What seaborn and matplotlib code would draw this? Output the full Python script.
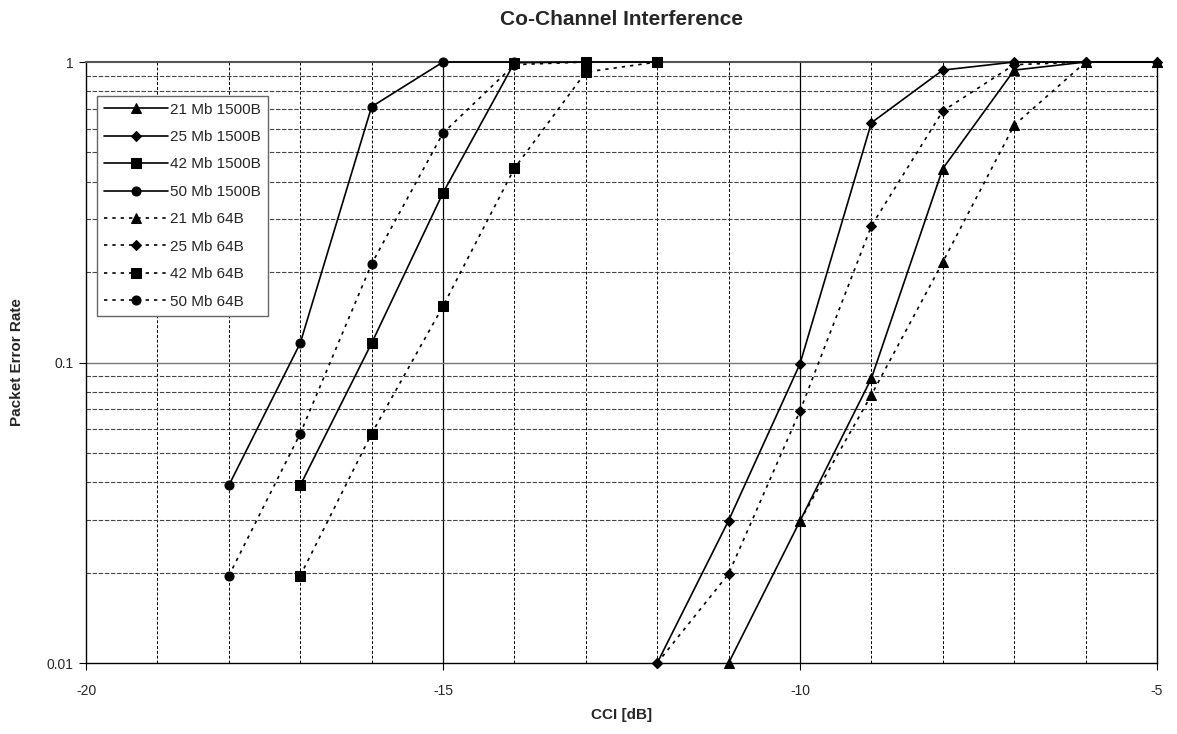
import matplotlib
matplotlib.use('Agg')
import matplotlib.pyplot as plt
from matplotlib.ticker import FixedLocator, NullFormatter
import seaborn as sb
import numpy as np

# CCI [dB] and packet error rate per series
cci_21_1500 = [-11, -10, -9, -8, -7, -6, -5]
per_21_1500 = [0.01, 0.0297, 0.0886, 0.442, 0.94, 1.0, 1.0]
cci_25_1500 = [-12, -11, -10, -9, -8, -7, -6, -5]
per_25_1500 = [0.01, 0.0298, 0.099, 0.628, 0.94, 1.0, 1.0, 1.0]
cci_42_1500 = [-17, -16, -15, -14, -13, -12]
per_42_1500 = [0.039, 0.116, 0.367, 0.995, 1.0, 1.0]
cci_50_1500 = [-18, -17, -16, -15, -14]
per_50_1500 = [0.039, 0.116, 0.71, 1.0, 1.0]

cci_21_64 = [-10, -9, -8, -7, -6, -5]
per_21_64 = [0.0297, 0.078, 0.216, 0.616, 1.0, 1.0]
cci_25_64 = [-12, -11, -10, -9, -8, -7, -6]
per_25_64 = [0.01, 0.0198, 0.069, 0.285, 0.687, 0.98, 1.0]
cci_42_64 = [-17, -16, -15, -14, -13, -12]
per_42_64 = [0.0195, 0.058, 0.154, 0.443, 0.926, 1.0]
cci_50_64 = [-18, -17, -16, -15, -14, -13]
per_50_64 = [0.0195, 0.058, 0.213, 0.58, 0.98, 1.0]

series = [
    ("21 Mb 1500B", cci_21_1500, per_21_1500, "^", "-"),
    ("25 Mb 1500B", cci_25_1500, per_25_1500, "D", "-"),
    ("42 Mb 1500B", cci_42_1500, per_42_1500, "s", "-"),
    ("50 Mb 1500B", cci_50_1500, per_50_1500, "o", "-"),
    ("21 Mb 64B", cci_21_64, per_21_64, "^", (0, (2, 3))),
    ("25 Mb 64B", cci_25_64, per_25_64, "D", (0, (2, 3))),
    ("42 Mb 64B", cci_42_64, per_42_64, "s", (0, (2, 3))),
    ("50 Mb 64B", cci_50_64, per_50_64, "o", (0, (2, 3))),
]
marker_sizes = {"^": 7, "D": 5.5, "s": 6.5, "o": 6.5}

sb.set_style("white")
plt.rcParams['font.family'] = ['Liberation Sans', 'DejaVu Sans']

fig = plt.figure(figsize=(11.77, 7.34), dpi=100, facecolor="white")
ax = fig.add_axes([0.0731, 0.0967, 0.9099, 0.8188])

# Grid
for x in range(-19, -5):
    if x in (-15, -10):
        ax.axvline(x, color="black", lw=0.9, zorder=1)
    else:
        ax.axvline(x, color="black", lw=0.7, linestyle=(0, (3, 2)), zorder=1)
minor_y = [m * 10.0 ** e for e in (-2, -1) for m in range(2, 10)]
for y in minor_y:
    ax.axhline(y, color="#444444", lw=0.8, linestyle=(0, (4, 1.5)), zorder=1)
ax.axhline(0.1, color="#777777", lw=1.0, zorder=1)

for label, xs, ys, mk, ls in series:
    sb.lineplot(x=xs, y=ys, ax=ax, color="black", marker=mk, markersize=marker_sizes[mk],
                markeredgecolor="black", linestyle=ls, linewidth=1.2, label=label, zorder=3,
                clip_on=False)

ax.set_yscale("log")
ax.set_xlim(-20, -5)
ax.set_ylim(0.01, 1)
ax.set_xticks([-20, -15, -10, -5])
ax.set_xticklabels(["-20", "-15", "-10", "-5"])
ax.yaxis.set_major_locator(FixedLocator([0.01, 0.1, 1]))
ax.set_yticklabels(["0.01", "0.1", "1"])
ax.yaxis.set_minor_locator(FixedLocator([]))
ax.yaxis.set_minor_formatter(NullFormatter())
ax.tick_params(axis="both", which="major", direction="out", length=5, width=0.8,
               labelsize=10, color="black", left=True, bottom=True)
ax.tick_params(axis="x", pad=10)
ax.tick_params(axis="y", pad=4)

for side in ["left", "bottom", "right", "top"]:
    ax.spines[side].set_color("black")
    ax.spines[side].set_linewidth(1.0)
ax.spines["top"].set_color("#555555")
ax.spines["top"].set_linewidth(1.5)

ax.set_xlabel("CCI [dB]", fontsize=11, fontweight="bold", labelpad=7)
ax.set_ylabel("Packet Error Rate", fontsize=11, fontweight="bold", labelpad=16)
ax.set_title("Co-Channel Interference", fontsize=15, fontweight="bold", pad=27)

leg = ax.legend(loc="upper left", bbox_to_anchor=(0.0103, 0.944), borderaxespad=0,
                fontsize=11, handlelength=4.2, labelspacing=0.88, handletextpad=0.15,
                fancybox=False, frameon=True, edgecolor="#666666", framealpha=1,
                borderpad=0.45)
leg.get_frame().set_linewidth(1.0)

plt.savefig("out.png", dpi=100, facecolor="white")
plt.close()
